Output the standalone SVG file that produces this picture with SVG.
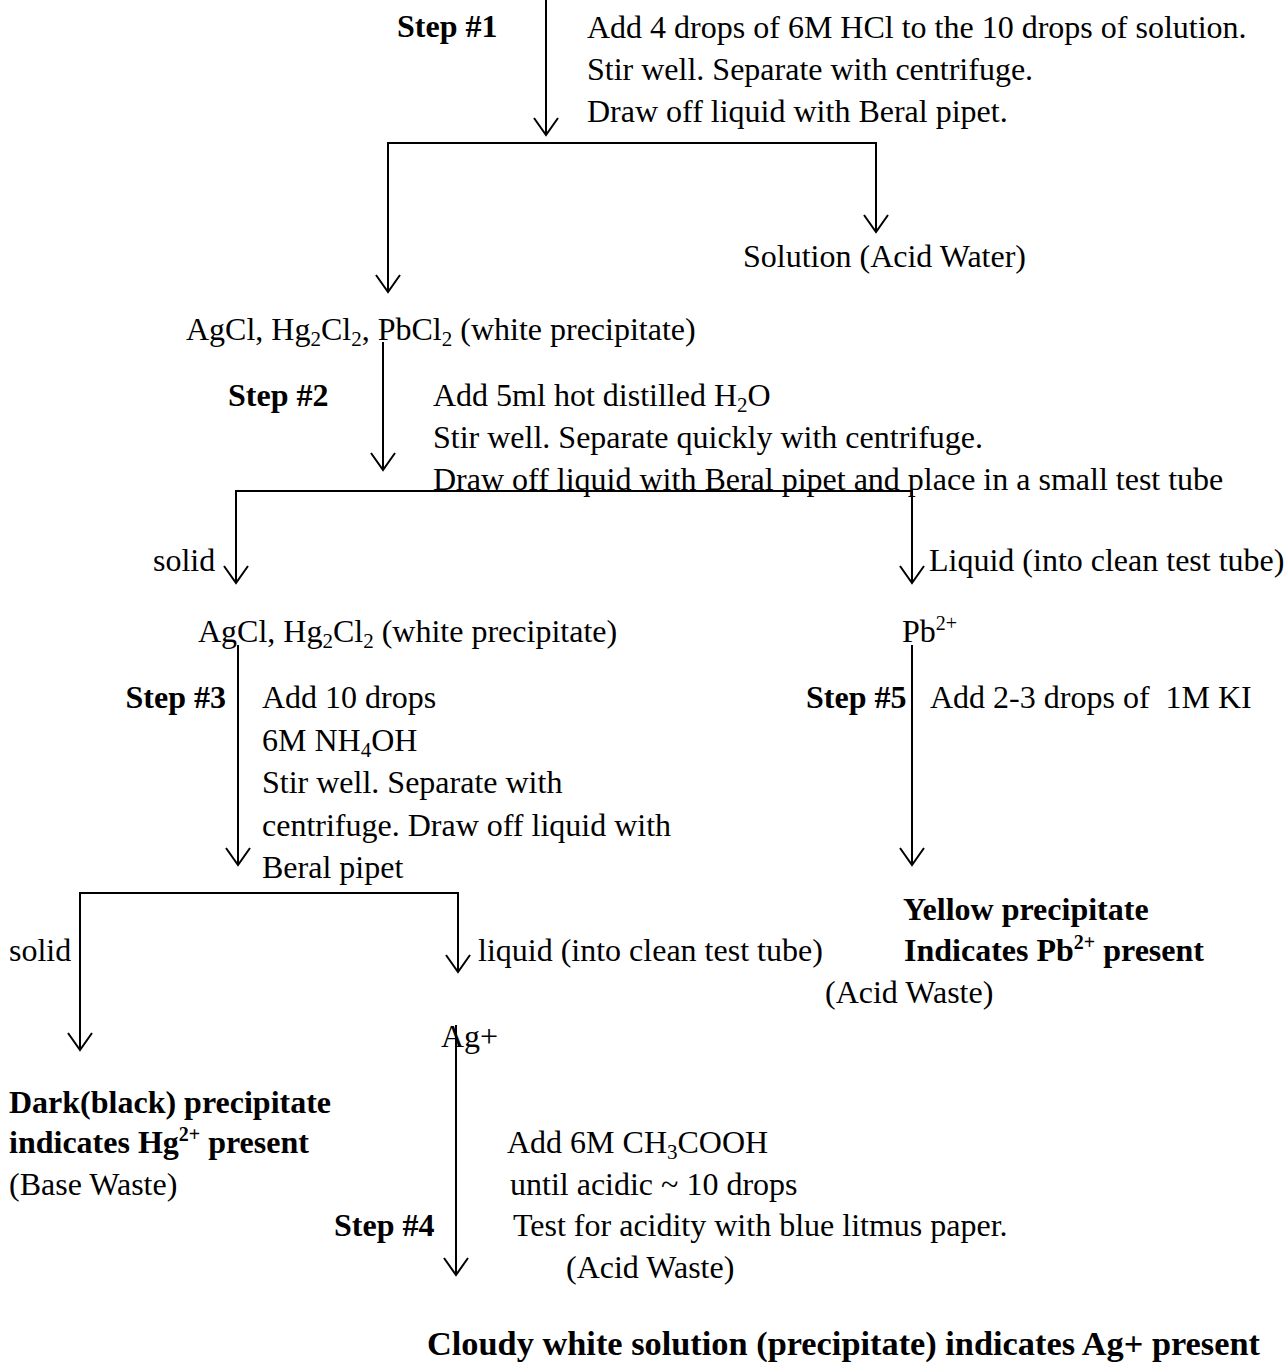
<svg xmlns="http://www.w3.org/2000/svg" width="1284" height="1371" viewBox="0 0 1284 1371">
<defs>
<style>
text{font-family:"Liberation Serif","Times New Roman",serif;font-size:32px;fill:#000}
.b{font-weight:bold}
.sub{font-size:21px}
.sup{font-size:20px}
.ln{stroke:#000;stroke-width:2;fill:none}
</style>
<marker id="arr" viewBox="0 0 20 28" refX="18" refY="14" markerWidth="20" markerHeight="28" markerUnits="userSpaceOnUse" orient="auto">
<path d="M1,2 L18,14 L1,26" fill="none" stroke="#000" stroke-width="2"/>
</marker>
</defs>
<rect width="1284" height="1371" fill="#fff"/>
<g id="connectors">
<line class="ln" x1="546" y1="0" x2="546" y2="135" marker-end="url(#arr)"/>
<polyline class="ln" points="388,292 388,143 876,143 876,232"/>
<line class="ln" x1="388" y1="200" x2="388" y2="292" marker-end="url(#arr)"/>
<line class="ln" x1="876" y1="200" x2="876" y2="232" marker-end="url(#arr)"/>
<line class="ln" x1="383" y1="342" x2="383" y2="470" marker-end="url(#arr)"/>
<polyline class="ln" points="236,583 236,491 912,491 912,583"/>
<line class="ln" x1="236" y1="540" x2="236" y2="583" marker-end="url(#arr)"/>
<line class="ln" x1="912" y1="540" x2="912" y2="583" marker-end="url(#arr)"/>
<line class="ln" x1="238" y1="645" x2="238" y2="865" marker-end="url(#arr)"/>
<line class="ln" x1="912" y1="645" x2="912" y2="865" marker-end="url(#arr)"/>
<polyline class="ln" points="80,1050 80,893 458,893 458,972"/>
<line class="ln" x1="80" y1="1000" x2="80" y2="1050" marker-end="url(#arr)"/>
<line class="ln" x1="458" y1="940" x2="458" y2="972" marker-end="url(#arr)"/>
<line class="ln" x1="456" y1="1025" x2="456" y2="1275" marker-end="url(#arr)"/>
</g>
<g id="step1">
<text class="b" x="397" y="37">Step #1</text>
<text x="587" y="38">Add 4 drops of 6M HCl to the 10 drops of solution.</text>
<text x="587" y="80">Stir well. Separate with centrifuge.</text>
<text x="587" y="122">Draw off liquid with Beral pipet.</text>
</g>
<g id="solution">
<text x="743" y="267">Solution (Acid Water)</text>
</g>
<g id="precip1">
<text x="186" y="340">AgCl, Hg<tspan class="sub" dy="6">2</tspan><tspan dy="-6">Cl</tspan><tspan class="sub" dy="6">2</tspan><tspan dy="-6">, PbCl</tspan><tspan class="sub" dy="6">2</tspan><tspan dy="-6"> (white precipitate)</tspan></text>
</g>
<g id="step2">
<text class="b" x="228" y="406">Step #2</text>
<text x="433" y="406">Add 5ml hot distilled H<tspan class="sub" dy="6">2</tspan><tspan dy="-6">O</tspan></text>
<text x="433" y="448">Stir well. Separate quickly with centrifuge.</text>
<text x="433" y="490">Draw off liquid with Beral pipet and place in a small test tube</text>
</g>
<g id="branch2">
<text x="153" y="571">solid</text>
<text x="929" y="571">Liquid (into clean test tube)</text>
</g>
<g id="precip2">
<text x="198" y="642">AgCl, Hg<tspan class="sub" dy="6">2</tspan><tspan dy="-6">Cl</tspan><tspan class="sub" dy="6">2</tspan><tspan dy="-6"> (white precipitate)</tspan></text>
</g>
<g id="pb">
<text x="902" y="642">Pb<tspan class="sup" dy="-12">2+</tspan></text>
</g>
<g id="step3">
<text class="b" x="226" y="708" text-anchor="end">Step #3</text>
<text x="262" y="708">Add 10 drops</text>
<text x="262" y="751">6M NH<tspan class="sub" dy="6">4</tspan><tspan dy="-6">OH</tspan></text>
<text x="262" y="793">Stir well. Separate with</text>
<text x="262" y="836">centrifuge. Draw off liquid with</text>
<text x="262" y="878">Beral pipet</text>
</g>
<g id="step5">
<text class="b" x="806" y="708">Step #5</text>
<text x="930" y="708" xml:space="preserve">Add 2-3 drops of  1M KI</text>
</g>
<g id="yellow">
<text class="b" x="903" y="920">Yellow precipitate</text>
<text class="b" x="904" y="961">Indicates Pb<tspan class="sup" dy="-12">2+</tspan><tspan dy="12"> present</tspan></text>
<text x="825" y="1003">(Acid Waste)</text>
</g>
<g id="branch3">
<text x="9" y="961">solid</text>
<text x="478" y="961">liquid (into clean test tube)</text>
</g>
<g id="ag">
<text x="441" y="1047">Ag+</text>
</g>
<g id="dark">
<text class="b" x="9" y="1113">Dark(black) precipitate</text>
<text class="b" x="9" y="1153">indicates Hg<tspan class="sup" dy="-12">2+</tspan><tspan dy="12"> present</tspan></text>
<text x="9" y="1195">(Base Waste)</text>
</g>
<g id="step4">
<text class="b" x="334" y="1236">Step #4</text>
<text x="507" y="1153">Add 6M CH<tspan class="sub" dy="6">3</tspan><tspan dy="-6">COOH</tspan></text>
<text x="510" y="1195">until acidic ~ 10 drops</text>
<text x="513" y="1236">Test for acidity with blue litmus paper.</text>
<text x="566" y="1278">(Acid Waste)</text>
</g>
<g id="cloudy">
<text class="b" x="427" y="1355" style="font-size:34px" textLength="833" lengthAdjust="spacingAndGlyphs">Cloudy white solution (precipitate) indicates Ag+ present</text>
</g>
</svg>
